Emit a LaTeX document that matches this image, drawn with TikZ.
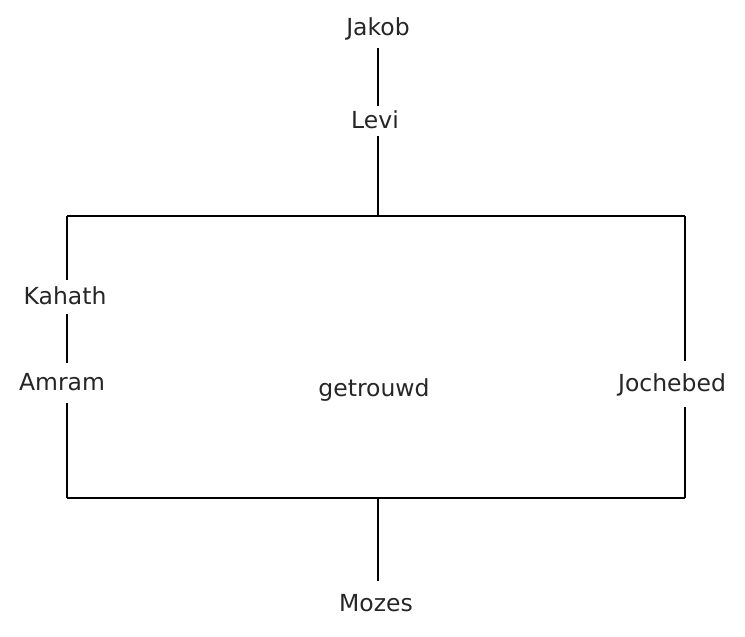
\documentclass[tikz,border=0pt]{standalone}
\usepackage{fontspec}
\setmainfont{DejaVu Sans}
\usepackage{tikz}
\usetikzlibrary{positioning}
\tikzstyle{person} = [font=\fontsize{23.5}{27}\selectfont, text=black!85, text height=18pt, text depth=3pt, inner xsep=2pt, inner ysep=0pt]
\tikzstyle{lijn} = [line width=1.8pt]

\begin{document}
\begin{tikzpicture}[x=1pt, y=-1pt]
        \useasboundingbox (0,0) rectangle (745,637);
        \node (jakob) [person, minimum height=40pt] at (378,28) {Jakob};
        \node (levi) [person, minimum height=30pt] at (375,121) {Levi};
        \node (kahath) [person, minimum height=34pt] at (65,297) {Kahath};
        \node (amram) [person, minimum height=40pt] at (62,383) {Amram};
        \node (jochebed) [person, minimum height=46pt] at (672,384) {Jochebed};
        \node (getrouwd) [person] at (374,389) {getrouwd};
        \node (mozes) [person, minimum height=46pt] at (376,604) {Mozes};
        \coordinate (tl) at (67,216);
        \coordinate (tr) at (685,216);
        \coordinate (bl) at (67,498);
        \coordinate (br) at (685,498);
        \coordinate (tm) at (378,216);
        \coordinate (bm) at (378,498);
        \draw [lijn] (jakob.south -| tm) -- (levi.north -| tm);
        \draw [lijn] (levi.south -| tm) -- (tm);
        \draw [lijn] (tl) -- (tr);
        \draw [lijn] (bl) -- (br);
        \draw [lijn] (tl) -- (tl |- kahath.north);
        \draw [lijn] (tl |- kahath.south) -- (tl |- amram.north);
        \draw [lijn] (tl |- amram.south) -- (bl);
        \draw [lijn] (tr) -- (tr |- jochebed.north);
        \draw [lijn] (tr |- jochebed.south) -- (br);
        \draw [lijn] (bm) -- (bm |- mozes.north);
    \end{tikzpicture}
\end{document}
